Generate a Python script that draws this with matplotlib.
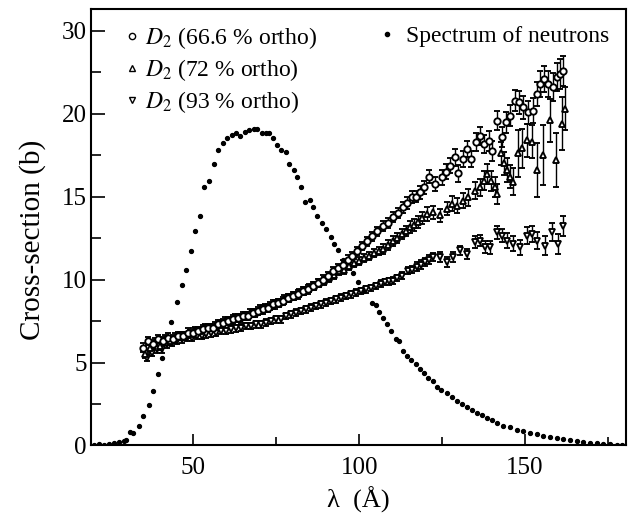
import matplotlib
matplotlib.use("Agg")
import matplotlib.pyplot as plt
from matplotlib.lines import Line2D
from matplotlib.ticker import FixedLocator

plt.rcParams['font.family'] = ['Liberation Serif', 'DejaVu Serif']
plt.rcParams['mathtext.fontset'] = 'stix'

# ---------------- data ----------------
spec_lam = [20.0, 21.5, 23.0, 24.5, 26.0, 27.5, 29.0, 29.9, 31.1, 31.9,
            33.7, 34.9, 36.6, 37.8, 39.3, 40.5, 43.2, 45.0, 46.5, 47.8,
            49.3, 50.5, 52.0, 53.4, 54.8, 56.2, 57.5, 59.0, 60.3, 61.6,
            62.9, 64.1, 65.6, 66.9, 68.3, 69.3, 70.6, 71.9, 72.9, 73.9,
            75.1, 76.6, 77.9, 79.0, 80.4, 81.4, 82.5, 83.7, 85.1, 86.2,
            87.4, 88.7, 90.0, 91.4, 92.4, 93.7, 95.2, 96.7, 98.2, 99.8,
            101.5, 103.8, 105.0, 106.1, 107.3, 108.3, 109.6, 111.0, 112.1, 113.3,
            114.5, 115.7, 117.0, 118.3, 119.6, 120.8, 122.2, 123.4, 124.7, 126.4,
            127.9, 129.4, 130.9, 132.4, 133.9, 135.4, 136.9, 138.5, 140.0, 141.5,
            143.5, 145.5, 147.5, 149.5, 151.5, 153.5, 155.5, 157.5, 159.6, 161.5,
            163.6, 165.6, 167.6, 169.6, 171.6, 173.6, 175.6, 177.6, 179.2]
spec_val = [0.05, 0.08, 0.04, 0.10, 0.12, 0.18, 0.25, 0.34, 0.84, 0.74,
            1.16, 1.77, 2.43, 3.30, 4.28, 5.26, 7.47, 8.67, 9.64, 10.6,
            11.7, 12.95, 13.8, 15.56, 15.96, 16.97, 17.8, 18.23, 18.5, 18.7,
            18.8, 18.67, 18.9, 19.0, 19.07, 19.07, 18.8, 18.8, 18.8, 18.5,
            18.1, 17.8, 17.7, 16.97, 16.6, 16.2, 15.6, 14.7, 14.8, 14.35,
            13.8, 13.4, 13.05, 12.55, 12.15, 11.75, 11.2, 10.9, 10.4, 9.84,
            9.3, 8.6, 8.47, 8.07, 7.67, 7.29, 6.87, 6.4, 6.28, 5.72,
            5.42, 5.16, 4.88, 4.62, 4.36, 4.06, 3.86, 3.51, 3.37, 3.15,
            2.91, 2.71, 2.51, 2.31, 2.11, 1.95, 1.81, 1.67, 1.51, 1.37,
            1.2, 1.1, 0.96, 0.86, 0.77, 0.68, 0.6, 0.52, 0.44, 0.38,
            0.32, 0.26, 0.22, 0.16, 0.12, 0.08, 0.06, 0.05, 0.04]

# D2 66.6 % ortho (open circles)
a_lam = [35.0, 36.5, 38.0, 39.5, 41.0, 42.5, 44.0, 45.5, 47.0, 48.5,
         50.0, 51.5, 53.0, 54.5, 56.0, 57.5, 59.0, 60.5, 62.0, 63.5,
         65.0, 66.5, 68.0, 69.5, 71.0, 72.5, 74.0, 75.5, 77.0, 78.5,
         80.0, 81.5, 83.0, 84.5, 86.0, 87.5, 89.0, 90.5, 92.0, 93.5,
         95.0, 96.5, 98.0, 99.5, 101.0, 102.5, 104.0, 105.5,
         107.3, 108.8, 110.3, 111.8, 113.3, 114.5, 115.8, 117.0, 118.3, 119.4,
         121.2, 122.9, 124.9, 126.2, 127.4, 128.9, 129.9, 131.2, 132.6, 133.6,
         135.3, 136.4, 137.5, 139.0, 140.0, 141.5, 143.0, 144.3, 145.5, 147.0,
         148.3, 149.5, 151.0, 152.3, 153.5, 154.5, 155.7, 157.0, 158.4, 159.6,
         160.6, 161.4]
a_val = [5.9, 6.3, 6.1, 6.4, 6.3, 6.5, 6.4, 6.6, 6.6, 6.8,
         6.8, 6.9, 7.0, 7.1, 7.1, 7.3, 7.4, 7.5, 7.6, 7.7,
         7.8, 7.8, 8.0, 8.1, 8.2, 8.3, 8.5, 8.6, 8.7, 8.9,
         9.0, 9.1, 9.3, 9.4, 9.6, 9.8, 10.0, 10.2, 10.5, 10.7,
         10.9, 11.2, 11.4, 11.7, 12.0, 12.3, 12.6, 12.9,
         13.25, 13.4, 13.75, 14.0, 14.35, 14.6, 14.96, 15.0, 15.26, 15.56,
         16.2, 15.76, 16.16, 16.5, 16.87, 17.37, 16.4, 17.27, 17.87, 17.27,
         18.27, 18.67, 18.17, 18.37, 17.77, 19.58, 18.57, 19.47, 19.88, 20.78,
         20.68, 20.38, 20.08, 20.18, 21.18, 21.78, 22.09, 21.78, 21.58, 22.19,
         22.39, 22.59]
a_err = [0.25] * 48 + [0.3, 0.3, 0.3, 0.3, 0.35, 0.35, 0.35, 0.35, 0.4, 0.4,
                       0.4, 0.4, 0.45, 0.45, 0.45, 0.5, 0.5, 0.5, 0.5, 0.5,
                       0.55, 0.55, 0.55, 0.6, 0.6, 0.6, 0.6, 0.65, 0.65, 0.65,
                       0.7, 0.7, 0.7, 0.75, 0.75, 0.8, 0.8, 0.8, 0.85, 0.85,
                       0.9, 0.9]

# D2 72 % ortho (up triangles)
b_lam = [35.5, 37.0, 38.5, 40.0, 41.5, 43.0, 44.5, 46.0, 47.5, 49.0,
         50.5, 52.0, 53.5, 55.0, 56.5, 58.0, 59.5, 61.0, 62.5, 64.0,
         65.5, 67.0, 68.5, 70.0, 71.5, 73.0, 74.5, 76.0, 77.5, 79.0,
         80.5, 82.0, 83.5, 85.0, 86.5, 88.0, 89.5, 91.0, 92.5, 94.0,
         95.5, 97.0, 98.5, 100.0, 101.5, 103.0, 104.5, 106.0,
         107.3, 108.8, 110.3, 111.5, 112.8, 114.0, 115.3, 116.5, 117.8, 119.0,
         120.4, 122.4, 124.4, 126.4, 127.9, 129.4, 131.4, 132.9, 134.9, 136.3,
         137.5, 138.5, 139.8, 141.0, 141.5, 142.6, 143.6, 144.6, 145.6, 146.5,
         148.0, 149.2, 150.5, 152.0, 153.5, 155.5, 157.6, 159.4, 161.1, 162.1]
b_val = [5.5, 5.9, 6.2, 6.0, 6.4, 6.3, 6.5, 6.6, 6.6, 6.7,
         6.9, 6.9, 7.1, 7.1, 7.2, 7.3, 7.5, 7.5, 7.7, 7.7,
         7.8, 8.0, 8.0, 8.2, 8.3, 8.4, 8.5, 8.6, 8.8, 8.9,
         9.0, 9.2, 9.3, 9.5, 9.6, 9.8, 9.9, 10.1, 10.3, 10.5,
         10.6, 10.8, 11.0, 11.1, 11.3, 11.4, 11.6, 11.7,
         11.85, 12.1, 12.35, 12.5, 12.75, 12.9, 13.15, 13.3, 13.45, 13.7,
         13.95, 14.05, 13.86, 14.26, 14.56, 14.46, 14.76, 14.96, 15.36, 15.56,
         15.96, 16.37, 15.96, 15.56, 15.16, 17.6, 17.0, 16.6, 16.2, 15.9,
         17.6, 17.9, 18.4, 18.3, 16.6, 17.5, 19.6, 17.2, 19.4, 20.3]
b_err = [0.25] * 48 + [0.3, 0.3, 0.3, 0.3, 0.3, 0.3, 0.35, 0.35, 0.35, 0.35,
                       0.4, 0.4, 0.4, 0.4, 0.45, 0.45, 0.45, 0.5, 0.5, 0.5,
                       0.55, 0.6, 0.6, 0.6, 0.6, 0.7, 0.7, 0.7, 0.7, 0.8,
                       1.4, 1.2, 1.0, 1.0, 1.6, 1.8, 1.3, 1.6, 1.6, 1.3]

# D2 93 % ortho (down triangles)
c_lam = [36.0, 37.5, 39.0, 40.5, 42.0, 43.5, 45.0, 46.5, 48.0, 49.5,
         51.0, 52.5, 54.0, 55.5, 57.0, 58.5, 60.0, 61.5, 63.0, 64.5,
         66.0, 67.5, 69.0, 70.5, 72.0, 73.5, 75.0, 76.5, 78.0, 79.5,
         81.0, 82.5, 84.0, 85.5, 87.0, 88.5, 90.0, 91.5, 93.0, 94.5,
         96.0, 97.5, 99.0, 100.5, 102.0, 103.5, 105.0, 106.5,
         107.8, 109.0, 110.3, 111.5, 112.8, 114.8, 116.0, 117.3, 118.5, 119.8,
         121.0, 122.4, 124.4, 126.4, 128.4, 130.4, 132.4, 134.9, 136.4, 137.9,
         139.5, 141.5, 143.0, 144.5, 146.5, 148.5, 150.5, 152.0, 153.5, 156.0,
         158.1, 160.0, 161.4]
c_val = [5.3, 5.6, 5.8, 5.8, 6.1, 6.2, 6.3, 6.4, 6.5, 6.5,
         6.6, 6.6, 6.7, 6.75, 6.8, 6.9, 6.9, 7.0, 7.05, 7.1,
         7.2, 7.2, 7.3, 7.3, 7.4, 7.5, 7.6, 7.6, 7.8, 7.9,
         8.0, 8.1, 8.2, 8.3, 8.4, 8.5, 8.6, 8.7, 8.8, 8.9,
         9.0, 9.1, 9.2, 9.3, 9.4, 9.5, 9.6, 9.75,
         9.84, 9.9, 9.94, 10.1, 10.24, 10.54, 10.6, 10.78, 10.9, 11.04,
         11.2, 11.34, 11.34, 11.04, 11.34, 11.75, 11.55, 12.25, 12.35, 11.95,
         11.95, 12.85, 12.65, 12.35, 12.15, 11.95, 12.65, 12.75, 12.35, 12.05,
         12.85, 12.15, 13.25]
c_err = [0.2] * 48 + [0.2, 0.2, 0.2, 0.2, 0.2, 0.2, 0.2, 0.25, 0.25, 0.25,
                      0.25, 0.25, 0.3, 0.3, 0.3, 0.3, 0.3, 0.35, 0.35, 0.35,
                      0.4, 0.4, 0.4, 0.45, 0.45, 0.45, 0.5, 0.5, 0.5, 0.55,
                      0.55, 0.6, 0.6]

labels = [r"$D_2$ (66.6 % ortho)", r"$D_2$ (72 % ortho)", r"$D_2$ (93 % ortho)"]
spec_label = "Spectrum of neutrons"
xticks_major = [50, 100, 150]
xticks_minor = [75, 125, 175]
yticks_major = [0, 5, 10, 15, 20, 25]
yticks_labels = ["0", "5", "10", "15", "20", "30"]
yticks_minor = [2.5, 7.5, 12.5, 17.5, 22.5]

# ---------------- figure ----------------
fig = plt.figure(figsize=(6.31, 5.18), dpi=100)
ax = fig.add_axes([0.1442, 0.140, 0.8478, 0.8426])

ax.plot(spec_lam, spec_val, 'o', color='black', markersize=2.8, linestyle='none')

common = dict(linestyle='none', color='black', ecolor='black', elinewidth=1.0,
              capsize=2.2, capthick=1.0, markersize=4.6, markeredgewidth=1.35,
              markerfacecolor='white', markeredgecolor='black')
ax.errorbar(c_lam, c_val, yerr=c_err, fmt='v', **common)
ax.errorbar(b_lam, b_val, yerr=b_err, fmt='^', **common)
ax.errorbar(a_lam, a_val, yerr=a_err, fmt='o', **common)

ax.set_xlim(19.2, 180.4)
ax.set_ylim(0, 26.3)
ax.xaxis.set_major_locator(FixedLocator(xticks_major))
ax.xaxis.set_minor_locator(FixedLocator(xticks_minor))
ax.set_yticks(yticks_major)
ax.set_yticklabels(yticks_labels)
ax.yaxis.set_minor_locator(FixedLocator(yticks_minor))
ax.tick_params(axis='x', which='major', direction='in', length=8, width=1.2,
               labelsize=18, pad=8, top=False)
ax.tick_params(axis='x', which='minor', direction='in', length=5.5, width=1.2, top=False)
ax.tick_params(axis='y', which='major', direction='in', length=10, width=1.2,
               labelsize=18, pad=3, right=False)
ax.tick_params(axis='y', which='minor', direction='in', length=7, width=1.2, right=False)
for s in ax.spines.values():
    s.set_linewidth(1.5)

ax.set_xlabel("λ  (Å)", fontsize=19, labelpad=6)
ax.set_ylabel("Cross-section (b)", fontsize=21)
ax.yaxis.set_label_coords(-0.084, 0.47)

mk = dict(color='black', linestyle='none', markerfacecolor='white',
          markeredgecolor='black', markersize=4.5, markeredgewidth=1.0)
handles = [Line2D([], [], marker='o', **mk),
           Line2D([], [], marker='^', **mk),
           Line2D([], [], marker='v', **mk)]
leg1 = ax.legend(handles, labels, loc='upper left', bbox_to_anchor=(0.035, 1.0),
                 frameon=False, fontsize=17, handlelength=0.5, handletextpad=0.3,
                 labelspacing=0.25, borderaxespad=0.3)
ax.add_artist(leg1)
h2 = [Line2D([], [], marker='o', color='black', linestyle='none', markersize=3)]
ax.legend(h2, [spec_label], loc='upper right', bbox_to_anchor=(1.0, 1.0),
          frameon=False, fontsize=17, handlelength=0.6, handletextpad=0.5,
          borderaxespad=0.3)

fig.savefig("out.png", dpi=100)
